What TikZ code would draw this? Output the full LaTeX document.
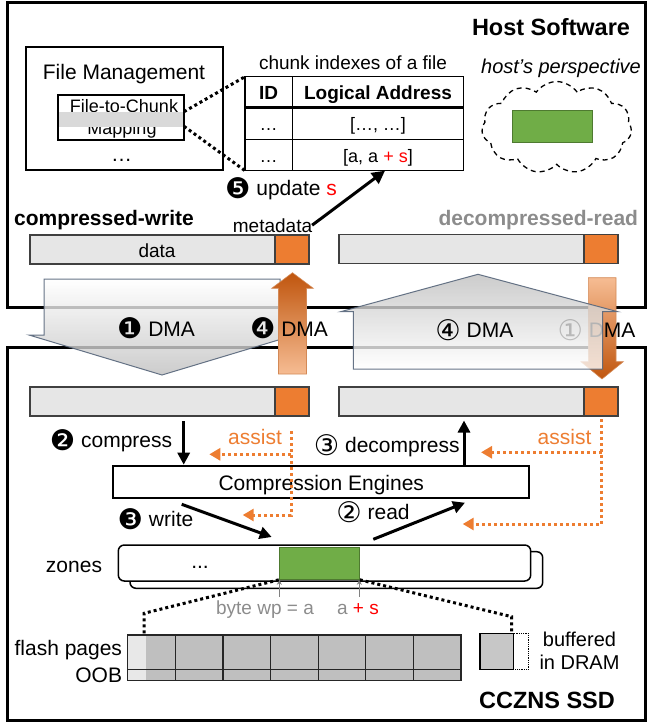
\documentclass[tikz,border=0pt]{standalone}
\usepackage{fontspec}
\setmainfont{Liberation Sans}
\newfontfamily\djv{DejaVu Sans}[Scale=1.35]
\newcommand\circnum[1]{\raisebox{-0.13em}{\djv #1}}
\usetikzlibrary{arrows.meta,shapes.symbols}
\definecolor{orng}{HTML}{ED7D31}
\definecolor{orngL}{HTML}{F6BC93}
\definecolor{orngD}{HTML}{C0560E}
\definecolor{grn}{HTML}{70AD47}
\definecolor{grnD}{HTML}{4E7A30}
\definecolor{barfill}{HTML}{E6E6E6}
\definecolor{bardraw}{HTML}{404040}
\definecolor{pagegray}{HTML}{BFBFBF}
\definecolor{pagelight}{HTML}{E8E8E8}
\definecolor{txtgray}{HTML}{8C8C8C}
\definecolor{slate}{HTML}{56657A}
\definecolor{bred}{HTML}{FF0000}
\begin{document}
\begin{tikzpicture}[x=1pt,y=-1pt,
  f21/.style={font=\fontsize{21}{25}\selectfont},
  f19/.style={font=\fontsize{19}{23}\selectfont},
  f18/.style={font=\fontsize{18}{21}\selectfont},
  f20/.style={font=\fontsize{20}{22}\selectfont},
  fbig/.style={font=\fontsize{23.5}{27}\selectfont\bfseries},
  fbold/.style={font=\fontsize{21}{25}\selectfont\bfseries},
  txt/.style={inner sep=0pt, outer sep=0pt, anchor=base},
  frame/.style={draw, line width=3pt, inner sep=0pt},
  box/.style={draw, line width=2pt, inner sep=0pt},
  barbox/.style={draw=bardraw, line width=1.2pt, fill=barfill, inner sep=0pt, minimum width=279pt, minimum height=29pt},
  metabox/.style={draw=bardraw, line width=1.2pt, fill=orng, inner sep=0pt, minimum width=34pt, minimum height=29pt},
  blk/.style={line width=3pt, -{Triangle[length=12pt,width=12pt]}},
  odot/.style={orng, line width=3pt, dash pattern=on 3pt off 3pt, -{Triangle[length=11pt,width=12pt]}},
  bdot/.style={line width=3pt, dash pattern=on 3pt off 3pt},
  bigarrow/.style={draw=slate, line width=1pt, fill opacity=0.8, draw opacity=0.9},
  orarrow/.style={draw=orngD!70, line width=0.6pt},
  wpmark/.style={gray, line width=1pt, -{Stealth[length=5pt,width=5pt]}}
]
\useasboundingbox (0,0) rectangle (650,722);

% ---------- frames ----------
\node[frame, minimum width=638pt, minimum height=304pt] (host) at (326,155) {};
\node[frame, minimum width=638pt, minimum height=373pt] (ssd) at (326,533.5) {};
\node[txt, fbig] (hosttitle) at (551,36) {Host Software};

% ---------- file management ----------
\node[box, minimum width=196.7pt, minimum height=123.3pt] (fm) at (124.3,108.3) {};
\node[txt, f21] (fmtitle) at (124,80) {File Management};
\node[box, minimum width=125.7pt, minimum height=45pt] (fc) at (121.2,117.5) {};
\node[txt, f18] (fc1) at (124,112.7) {File-to-Chunk};
\node[txt, f18] (fc2) at (122,135) {Mapping};
\fill[gray!30] (59.3,111.7) rectangle (183,126.7);
\node[txt, f21] (fmdots) at (121.7,161) {…};

% ---------- table ----------
\node[txt, f19] (tcap) at (353,70) {chunk indexes of a file};
\node[draw, line width=1.5pt, inner sep=0pt, minimum width=218.3pt, minimum height=94pt] (tbl) at (354.15,123.7) {};
\draw[line width=2.5pt] (245,107.7) -- (463.3,107.7);
\draw[line width=1.5pt] (245,139.3) -- (463.3,139.3);
\draw[line width=1.5pt] (292.3,76.7) -- (292.3,170.7);
\node[txt, font=\fontsize{19}{23}\selectfont\bfseries] (hid) at (268.7,100) {ID};
\node[txt, font=\fontsize{19}{23}\selectfont\bfseries] (hla) at (378,100) {Logical Address};
\node[txt, f18] (r1a) at (268.7,131) {…};
\node[txt, f18] (r1b) at (378,131) {[…, …]};
\node[txt, f18] (r2a) at (268.7,162.5) {…};
\node[txt, f18] (r2b) at (378,162.5) {[a, a {\color{bred}+ s}]};
\coordinate (fcT) at (184,111.7);
\coordinate (fcB) at (184,126.3);
\coordinate (tblTL) at (245,76.7);
\coordinate (tblBL) at (245,170.7);
\draw[bdot] (fcT) -- (tblTL);
\draw[bdot] (fcB) -- (tblBL);

% ---------- host's perspective ----------
\node[txt, font=\fontsize{20}{23}\selectfont\itshape] (hp) at (561,74) {host’s perspective};
\node[cloud, draw, line width=1.3pt, dash pattern=on 5pt off 4pt, cloud puffs=11, cloud puff arc=110, aspect=1.63, minimum width=150pt, minimum height=92pt, inner sep=0pt] (cloud) at (556.7,127.5) {};
\node[draw=grnD, line width=1pt, fill=grn, inner sep=0pt, minimum width=80pt, minimum height=31.7pt] (hgreen) at (552.7,126.8) {};

% ---------- step 5 ----------
\node[txt, f21] (upd) at (281,196) {\circnum{❺} update {\color{bred}s}};
\node[txt, fbold] (cw) at (104,225) {compressed-write};
\node[txt, f19] (meta) at (272.5,232) {metadata};
\coordinate (tblU) at (385,170.7);
\draw[line width=3pt, -{Triangle[length=13pt,width=13pt]}] (meta.east) -- (tblU);
\node[txt, fbold, txtgray] (dr) at (538.3,225) {decompressed-read};

% ---------- host buffers ----------
\node[barbox] (wtop) at (169.5,249.5) {};
\node[metabox] (wtopm) at (292,249.5) {};
\node[txt, f19] (datalbl) at (157,257.3) {data};
\node[barbox] (rtop) at (478.5,249) {};
\node[metabox] (rtopm) at (601,249) {};

% ---------- DMA arrows ----------
\path[bigarrow, top color=white, bottom color=gray!50]
  (44,279) -- (280,279) -- (280,335) -- (295,335) -- (162,375) -- (29,335) -- (44,335) -- cycle;
\path[orarrow, top color=orngD, bottom color=orngL]
  (278.5,374) -- (306.5,374) -- (306.5,288.3) -- (313.3,288.3) -- (292.5,272.7) -- (271.7,288.3) -- (278.5,288.3) -- cycle;

\path[orarrow, top color=orngL, bottom color=orngD]
  (588.3,277.7) -- (616,277.7) -- (616,361.7) -- (623.3,361.7) -- (602,379) -- (581,361.7) -- (588.3,361.7) -- cycle;
\node[txt, f21] (dma1r) at (596.5,337.7) {\circnum{①} DMA};
\path[bigarrow, top color=gray!50, bottom color=white]
  (353.3,369) -- (602.7,369) -- (602.7,311.7) -- (617.7,311.7) -- (478,274.3) -- (340.7,311.7) -- (353.3,311.7) -- cycle;

\node[txt, f21] (dma1w) at (156,336) {\circnum{❶} DMA};
\node[txt, f21] (dma4w) at (289,336) {\circnum{❹} DMA};
\node[txt, f21] (dma4r) at (474.3,337.7) {\circnum{④} DMA};

% ---------- device buffers ----------
\node[barbox] (wbot) at (169.5,401.5) {};
\node[metabox] (wbotm) at (292,401.5) {};
\node[barbox] (rbot) at (478.5,401.5) {};
\node[metabox] (rbotm) at (601,401.5) {};

% ---------- compression engines ----------
\node[box, minimum width=416pt, minimum height=32pt] (ce) at (321.3,481.7) {};
\node[txt, f21] (cetxt) at (321.3,490) {Compression Engines};

\node[txt, f21] (cmp) at (111,447.3) {\circnum{❷} compress};
\coordinate (cmpS) at (183.7,421);
\draw[blk] (cmpS) -- (cmpS |- ce.north);

\node[txt, f21, orng] (as1) at (255,444) {assist};
\coordinate (oL0) at (291,431);
\coordinate (oL1) at (291,454.3);
\coordinate (oL2) at (291,515);
\coordinate (oL1e) at (209.3,454.3);
\coordinate (oL2e) at (242.7,515);
\draw[odot] (oL0) -- (oL2) -- (oL2e);
\draw[odot] (oL1) -- (oL1e);

\node[txt, f21] (dcmp) at (386.7,452.7) {\circnum{③} decompress};
\coordinate (dcE) at (464,420.5);
\draw[blk] (dcE |- ce.north) -- (dcE);

\node[txt, f21, orng] (as2) at (564.5,444) {assist};
\coordinate (oR0) at (601.7,419);
\coordinate (oR1) at (601.7,452.3);
\coordinate (oR2) at (601.7,524);
\coordinate (oR1e) at (481,452.3);
\coordinate (oR2e) at (462.7,524);
\draw[odot] (oR0) -- (oR2) -- (oR2e);
\draw[odot] (oR1) -- (oR1e);

\node[txt, f21] (wr) at (155.5,526.7) {\circnum{❸} write};
\coordinate (wrS) at (181.7,504.3);
\coordinate (wrE) at (271.7,537);
\draw[blk] (wrS) -- (wrE);

\node[txt, f21] (rd) at (373,519.3) {\circnum{②} read};
\coordinate (rdS) at (373.3,539.3);
\coordinate (rdE) at (465,502.7);
\draw[blk] (rdS) -- (rdE);

% ---------- zones ----------
\node[txt, f21] (zl) at (74,572) {zones};
\node[draw, line width=1.5pt, fill=white, rounded corners=6pt, inner sep=0pt, minimum width=412.7pt, minimum height=36.6pt] (zback) at (336.35,570) {};
\node[draw, line width=1.5pt, fill=white, rounded corners=6pt, inner sep=0pt, minimum width=412.4pt, minimum height=36pt] (zfront) at (324.5,563) {};
\node[txt, f21] (zdots) at (200,568) {...};
\node[draw=grnD, line width=1pt, fill=grn, inner sep=0pt, minimum width=80pt, minimum height=31.6pt] (zgreen) at (319.3,563.5) {};

\coordinate (wpA) at (279.3,596.7);
\coordinate (wpB) at (359.3,596.7);
\draw[wpmark] (wpA) -- (wpA |- zgreen.south);
\draw[wpmark] (wpB) -- (wpB |- zgreen.south);
\node[txt, f19, txtgray] (bwp) at (265,614.3) {byte wp = a};
\node[txt, f19] (aps) at (358,614.3) {{\color{txtgray}a} {\color{bred}+ s}};

% ---------- flash pages ----------
\fill[pagegray] (146,635) rectangle (461,680.7);
\fill[pagelight] (127.7,635) rectangle (146,680.7);
\node[draw=black!85, line width=1.2pt, inner sep=0pt, minimum width=333.3pt, minimum height=45.7pt] (fp) at (294.35,657.85) {};
\draw[black!85, line width=1.2pt] (127.7,669.3) -- (461,669.3);
\foreach \k in {1,...,6} {
  \draw[black!85, line width=1.2pt] (127.7+47.6*\k,635) -- (127.7+47.6*\k,680.7);
}
\node[txt, f21, anchor=base east] (fpl) at (122,655) {flash pages};
\node[txt, f21, anchor=base east] (oob) at (122,682.7) {OOB};

\node[draw, line width=1.2pt, fill=black!22, inner sep=0pt, minimum width=33.3pt, minimum height=36pt] (buf) at (496.65,651.3) {};
\draw[densely dotted, line width=0.8pt] (513.3,633.3) rectangle (528.3,669.3);
\node[txt, f20] (buf1) at (579.5,646.7) {buffered};
\node[txt, f20] (buf2) at (579.5,669.3) {in DRAM};

\coordinate (fpL) at (144,634);
\coordinate (fpR) at (511.7,633);
\coordinate (dL) at (144,613.3);
\coordinate (dR) at (511.7,616.7);
\draw[bdot] (zgreen.south west) -- (dL) -- (fpL);
\draw[bdot] (zgreen.south east) -- (dR) -- (fpR);

\node[txt, fbig] (ssdtitle) at (547,708) {CCZNS SSD};
\end{tikzpicture}
\end{document}
